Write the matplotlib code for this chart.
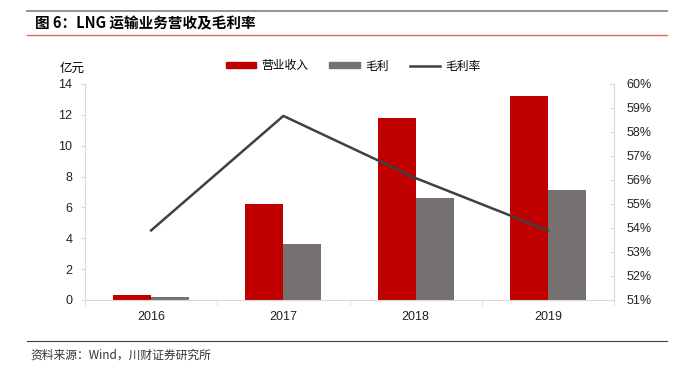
import numpy as np
import matplotlib
matplotlib.use("Agg")
from matplotlib import pyplot as plt
from matplotlib.lines import Line2D
from matplotlib.patches import Patch

plt.rcParams['font.family'] = ['Liberation Sans', 'Noto Sans CJK SC', 'DejaVu Sans']

years = ["2016", "2017", "2018", "2019"]
revenue = [0.35, 6.2, 11.8, 13.2]
gross_profit = [0.22, 3.65, 6.6, 7.1]
gross_margin = [0.539, 0.5867, 0.5608, 0.539]

red = "#C00000"
grey = "#767171"
dark = "#404040"
spine_c = "#D9D9D9"

fig = plt.figure(figsize=(6.95, 3.73), dpi=100)
ax = fig.add_axes([85 / 695, 1 - 300 / 373, (614 - 85) / 695, (300 - 84) / 373])
ax2 = ax.twinx()

x = np.arange(len(years))
w = 0.288
ax.bar(x - w / 2, revenue, w, color=red, zorder=2)
ax.bar(x + w / 2, gross_profit, w, color=grey, zorder=2)
ax2.plot(x, gross_margin, color=dark, lw=1.8, zorder=3)

ax.set_xlim(-0.5, 3.5)
ax.set_ylim(0, 14)
ax.set_yticks(range(0, 15, 2))
ax2.set_ylim(0.51, 0.60)
ax2.set_yticks(np.arange(0.51, 0.6001, 0.01))
ax2.set_yticklabels([f"{v}%" for v in range(51, 61)])

ax.set_xticks(x)
ax.set_xticklabels(years)
ax.set_xticks(np.arange(-0.5, 4, 1), minor=True)
ax.tick_params(axis='x', which='major', length=0, pad=8, labelsize=9, colors="#222222")
ax.tick_params(axis='x', which='minor', length=4, color=spine_c)
ax.tick_params(axis='y', length=3, color=spine_c, labelsize=9, labelcolor="#222222", pad=6)
ax2.tick_params(axis='y', direction='in', length=3, color=spine_c, labelsize=9, labelcolor="#222222", pad=9)

for a in (ax, ax2):
    a.spines['top'].set_visible(False)
    for s in ('left', 'right', 'bottom'):
        a.spines[s].set_color(spine_c)
ax.spines['right'].set_visible(False)
ax2.spines['left'].set_visible(False)
ax2.spines['bottom'].set_visible(False)

fig.text(72 / 695, 1 - 68 / 373, "亿元", fontsize=9, ha='center', va='center',
         family=['Noto Sans CJK SC'])

handles = [Patch(color=red), Patch(color=grey), Line2D([0], [0], color=dark, lw=1.8)]
fig.legend(handles, ["营业收入", "毛利", "毛利率"], loc='center',
           bbox_to_anchor=(353 / 695, 1 - 66 / 373), ncol=3, frameon=False,
           handlelength=2.6, handleheight=0.4, columnspacing=1.8,
           handletextpad=0.4, prop={'family': ['Noto Sans CJK SC'], 'size': 8.5})

# header and footer rules
fig.add_artist(Line2D([27 / 695, 667 / 695], [1 - 11 / 373] * 2, color="#808080", lw=1.2))
fig.add_artist(Line2D([27 / 695, 667 / 695], [1 - 35 / 373] * 2, color="#E06666", lw=1.0))
fig.add_artist(Line2D([27 / 695, 667 / 695], [1 - 341 / 373] * 2, color="#404040", lw=0.8))

fig.text(35 / 695, 1 - 23 / 373, "图 6：LNG 运输业务营收及毛利率", fontsize=10.5,
         fontweight='bold', ha='left', va='center', family=['Noto Sans CJK SC'])
fig.text(30 / 695, 1 - 355 / 373, "资料来源：Wind，川财证券研究所", fontsize=8.5,
         style='italic', ha='left', va='center', color="#333333",
         family=['Noto Sans CJK SC'])

fig.savefig("out.png", dpi=100)
